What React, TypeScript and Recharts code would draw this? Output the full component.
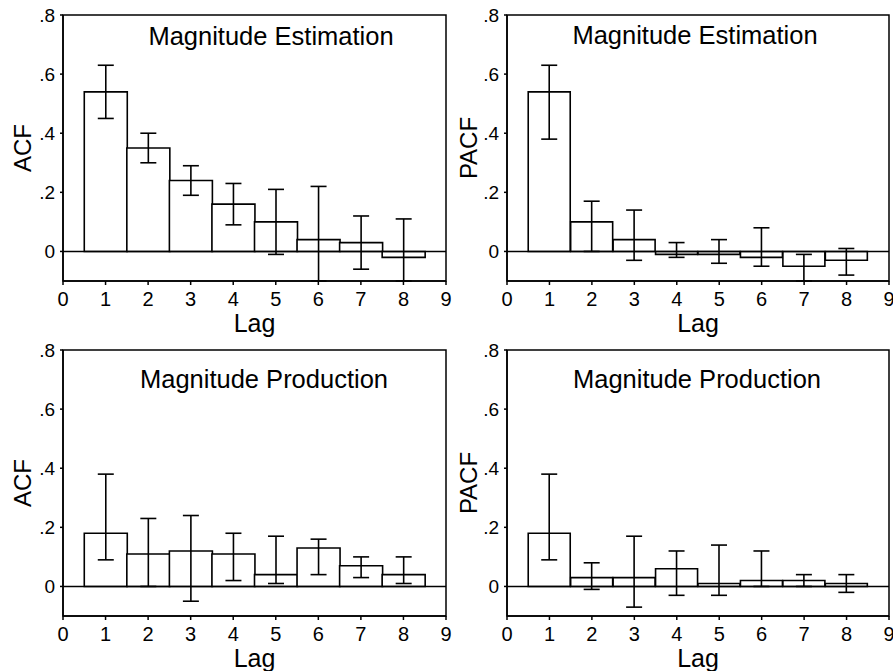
import React from 'react';
import {
  BarChart,
  Bar,
  XAxis,
  YAxis,
  ErrorBar,
  ReferenceLine,
  ReferenceArea,
} from 'recharts';

const lags = [1, 2, 3, 4, 5, 6, 7, 8];
const xTicks = [0, 1, 2, 3, 4, 5, 6, 7, 8, 9];
const yTicks = [0, 0.2, 0.4, 0.6, 0.8];
const Y_MIN = -0.1;
const Y_MAX = 0.8;

// Magnitude Estimation
const acfEst = [0.54, 0.35, 0.24, 0.16, 0.1, 0.04, 0.03, -0.02];
const acfEstLow = [0.45, 0.3, 0.19, 0.09, -0.01, -0.14, -0.06, -0.15];
const acfEstHigh = [0.63, 0.4, 0.29, 0.23, 0.21, 0.22, 0.12, 0.11];
const pacfEst = [0.54, 0.1, 0.04, -0.01, -0.01, -0.02, -0.05, -0.03];
const pacfEstLow = [0.38, 0.0, -0.03, -0.02, -0.04, -0.05, -0.12, -0.08];
const pacfEstHigh = [0.63, 0.17, 0.14, 0.03, 0.04, 0.08, -0.01, 0.01];

// Magnitude Production
const acfProd = [0.18, 0.11, 0.12, 0.11, 0.04, 0.13, 0.07, 0.04];
const acfProdLow = [0.09, 0.0, -0.05, 0.02, 0.01, 0.04, 0.03, 0.01];
const acfProdHigh = [0.38, 0.23, 0.24, 0.18, 0.17, 0.16, 0.1, 0.1];
const pacfProd = [0.18, 0.03, 0.03, 0.06, 0.01, 0.02, 0.02, 0.01];
const pacfProdLow = [0.09, -0.01, -0.07, -0.03, -0.03, 0.0, 0.0, -0.02];
const pacfProdHigh = [0.38, 0.08, 0.17, 0.12, 0.14, 0.12, 0.04, 0.04];

const FONT = '"Liberation Sans", Arial, Helvetica, sans-serif';

// error bars are cut at the bottom of the plot, like in the original figure
function buildRows(values: number[], low: number[], high: number[]) {
  return lags.map((lag, i) => ({
    lag,
    value: values[i],
    err: [values[i] - Math.max(low[i], Y_MIN), high[i] - values[i]],
  }));
}

const fmtY = (v: number) => (v === 0 ? '0' : String(v).replace('0.', '.'));

interface PanelProps {
  left: number;
  top: number;
  width: number;
  height: number;
  axisWidth: number;
  marginTop: number;
  marginRight: number;
  xAxisHeight: number;
  yLabel: string;
  title: string;
  titleX: number;
  titleTop: number;
  rows: { lag: number; value: number; err: number[] }[];
}

function Panel({
  left,
  top,
  width,
  height,
  axisWidth,
  marginTop,
  marginRight,
  xAxisHeight,
  yLabel,
  title,
  titleX,
  titleTop,
  rows,
}: PanelProps) {
  const plotBottom = height - xAxisHeight;
  const yCenter = (marginTop + plotBottom) / 2;

  return (
    <div style={{ position: 'absolute', left, top, width, height }}>
      <BarChart
        width={width}
        height={height}
        data={rows}
        margin={{ top: marginTop, right: marginRight, bottom: 0, left: 0 }}
        barCategoryGap={0}
        barGap={0}
      >
        <XAxis
          dataKey="lag"
          type="number"
          domain={[0, 9]}
          ticks={xTicks}
          interval={0}
          height={xAxisHeight}
          tickSize={4}
          tickMargin={7}
          stroke="#000"
          strokeWidth={1.5}
          tick={{ fill: '#000', fontSize: 20, fontFamily: FONT }}
          label={(props: any) => {
            const vb = props.viewBox;
            return (
              <text
                x={vb.x + vb.width / 2}
                y={vb.y + 51}
                textAnchor="middle"
                fontSize={25}
                fontFamily={FONT}
                fill="#000"
              >
                Lag
              </text>
            );
          }}
        />
        <YAxis
          type="number"
          domain={[Y_MIN, Y_MAX]}
          ticks={yTicks}
          allowDataOverflow
          width={axisWidth}
          tickSize={3}
          tickMargin={5}
          stroke="#000"
          strokeWidth={1.5}
          tickFormatter={fmtY}
          tick={{ fill: '#000', fontSize: 19, fontFamily: FONT }}
          label={() => (
            <text
              x={22}
              y={yCenter}
              textAnchor="middle"
              dominantBaseline="central"
              transform={`rotate(-90, 22, ${yCenter})`}
              fontSize={24}
              fontFamily={FONT}
              fill="#000"
            >
              {yLabel}
            </text>
          )}
        />
        <ReferenceArea
          x1={0}
          x2={9}
          y1={Y_MIN}
          y2={Y_MAX}
          fill="none"
          stroke="#000"
          strokeWidth={1.5}
          ifOverflow="visible"
        />
        <Bar
          dataKey="value"
          fill="#fff"
          stroke="#000"
          strokeWidth={1.6}
          isAnimationActive={false}
        >
          <ErrorBar
            dataKey="err"
            direction="y"
            width={8}
            stroke="#000"
            strokeWidth={1.6}
            isAnimationActive={false}
          />
        </Bar>
        <ReferenceLine y={0} stroke="#000" strokeWidth={1.5} />
      </BarChart>
      <div
        style={{
          position: 'absolute',
          left: titleX - 200,
          top: titleTop,
          width: 400,
          textAlign: 'center',
          fontFamily: FONT,
          fontSize: 25.5,
          lineHeight: '26px',
          color: '#000',
        }}
      >
        {title}
      </div>
    </div>
  );
}

export default function App() {
  return (
    <div
      style={{
        position: 'absolute',
        left: 0,
        top: 0,
        width: 893,
        height: 671,
        background: '#fff',
        overflow: 'hidden',
      }}
    >
      <Panel
        left={0}
        top={0}
        width={460}
        height={345}
        axisWidth={63}
        marginTop={15}
        marginRight={14}
        xAxisHeight={64}
        yLabel="ACF"
        title="Magnitude Estimation"
        titleX={271}
        titleTop={23}
        rows={buildRows(acfEst, acfEstLow, acfEstHigh)}
      />
      <Panel
        left={446}
        top={0}
        width={447}
        height={345}
        axisWidth={61}
        marginTop={15}
        marginRight={4}
        xAxisHeight={64}
        yLabel="PACF"
        title="Magnitude Estimation"
        titleX={249}
        titleTop={22}
        rows={buildRows(pacfEst, pacfEstLow, pacfEstHigh)}
      />
      <Panel
        left={0}
        top={335}
        width={460}
        height={336}
        axisWidth={63}
        marginTop={15}
        marginRight={14}
        xAxisHeight={55}
        yLabel="ACF"
        title="Magnitude Production"
        titleX={264}
        titleTop={31}
        rows={buildRows(acfProd, acfProdLow, acfProdHigh)}
      />
      <Panel
        left={446}
        top={335}
        width={447}
        height={336}
        axisWidth={61}
        marginTop={15}
        marginRight={4}
        xAxisHeight={55}
        yLabel="PACF"
        title="Magnitude Production"
        titleX={251}
        titleTop={31}
        rows={buildRows(pacfProd, pacfProdLow, pacfProdHigh)}
      />
    </div>
  );
}
